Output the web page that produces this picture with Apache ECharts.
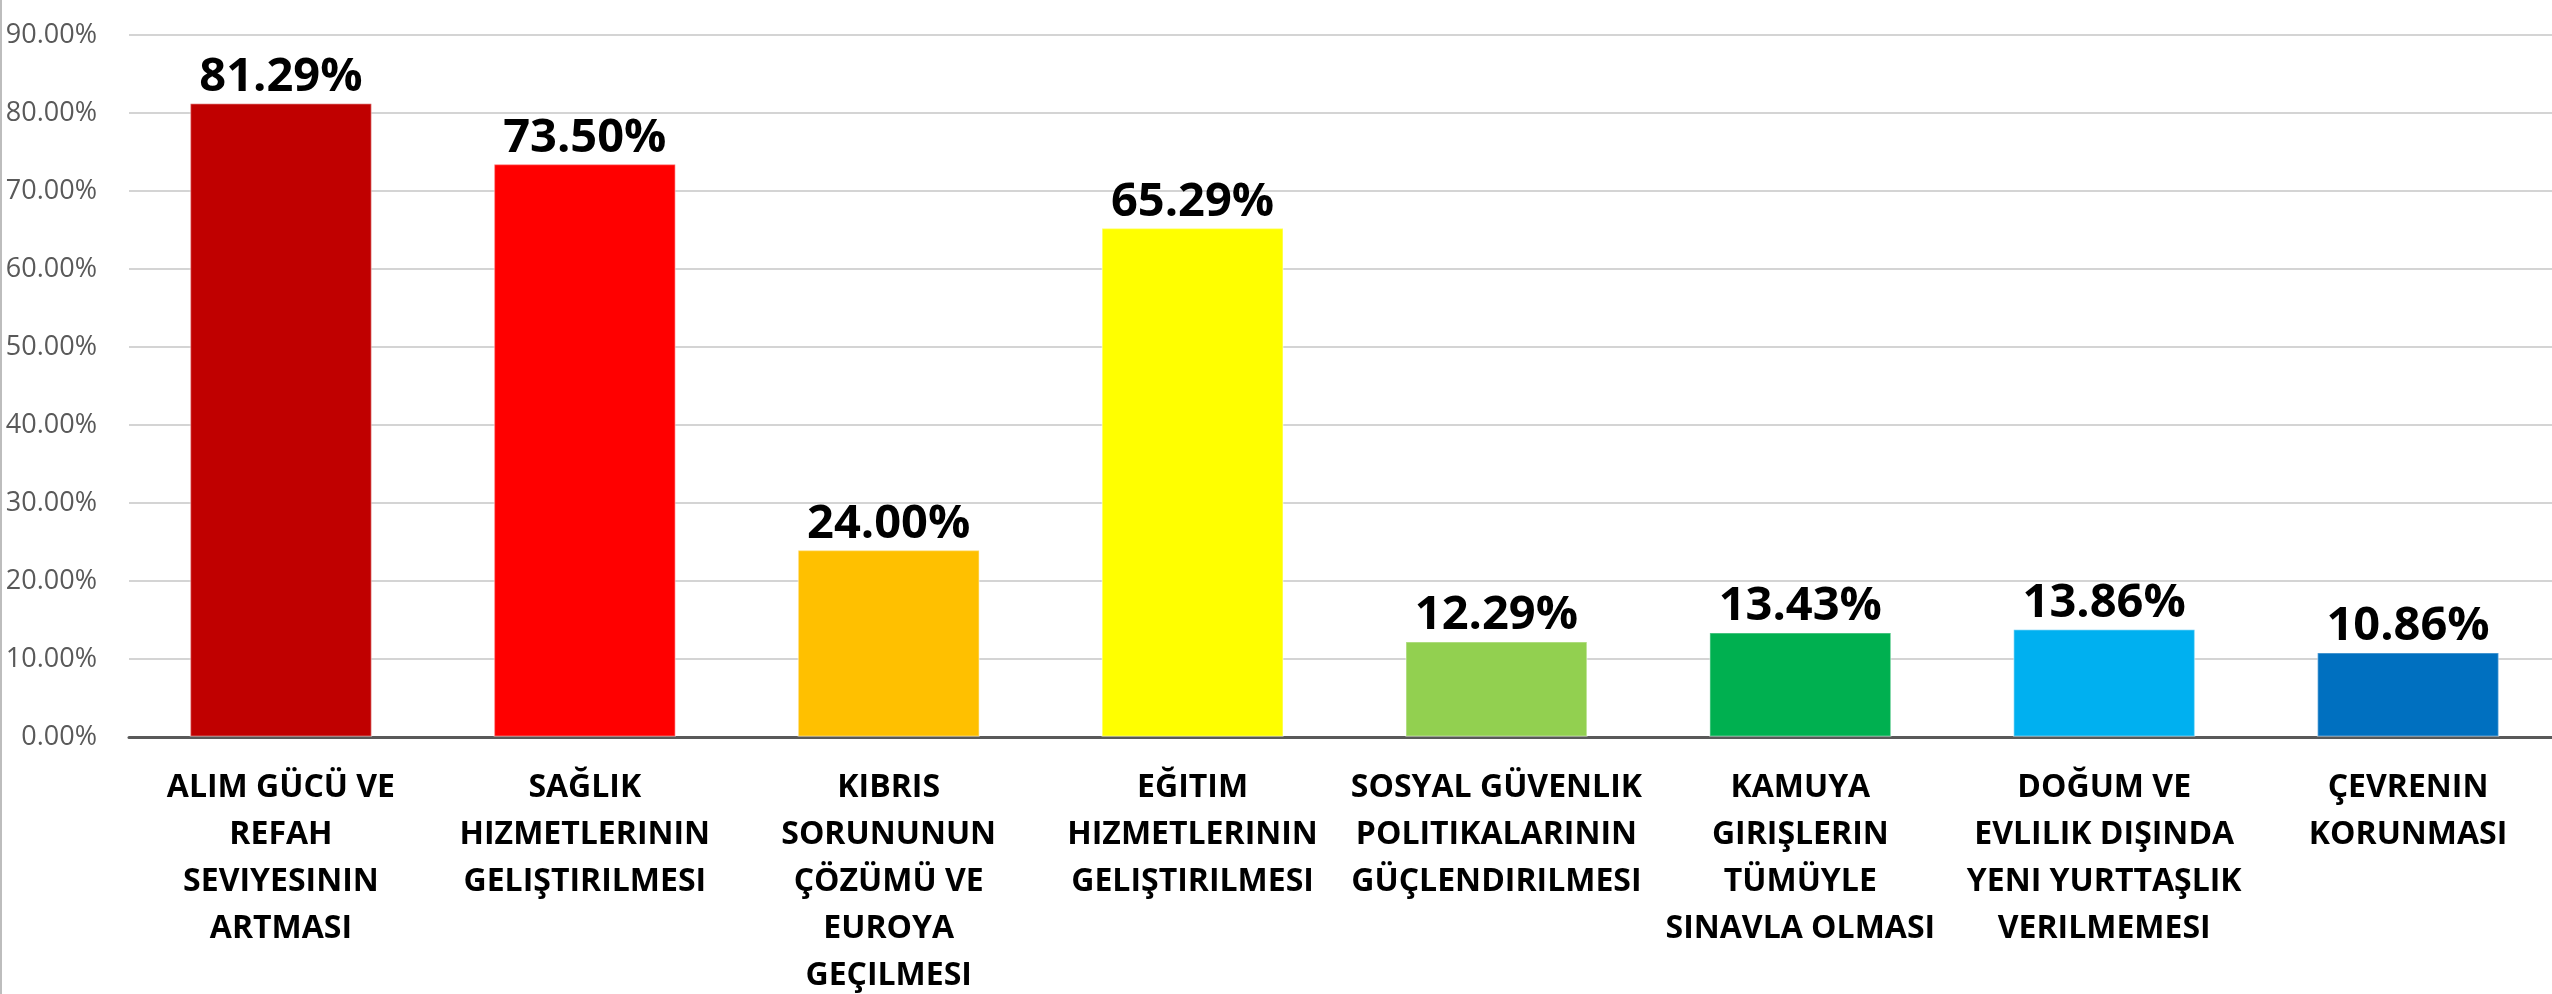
<!DOCTYPE html>
<html>
<head>
<meta charset="utf-8">
<script src="https://cdn.jsdelivr.net/npm/echarts@6/dist/echarts.min.js"></script>
<style>
  html, body { margin: 0; padding: 0; background: #fff; }
  #chart { width: 2552px; height: 994px; }
</style>
</head>
<body>
<div id="chart"></div>
<script>
const categories = [
  'ALIM GÜCÜ VE\nREFAH\nSEVIYESININ\nARTMASI',
  'SAĞLIK\nHIZMETLERININ\nGELIŞTIRILMESI',
  'KIBRIS\nSORUNUNUN\nÇÖZÜMÜ VE\nEUROYA\nGEÇILMESI',
  'EĞITIM\nHIZMETLERININ\nGELIŞTIRILMESI',
  'SOSYAL GÜVENLIK\nPOLITIKALARININ\nGÜÇLENDIRILMESI',
  'KAMUYA\nGIRIŞLERIN\nTÜMÜYLE\nSINAVLA OLMASI',
  'DOĞUM VE\nEVLILIK DIŞINDA\nYENI YURTTAŞLIK\nVERILMEMESI',
  'ÇEVRENIN\nKORUNMASI'
]

const values = [81.29, 73.5, 24.0, 65.29, 12.29, 13.43, 13.86, 10.86]

const barColors = [
  '#C00000',
  '#FF0000',
  '#FFC000',
  '#FFFF00',
  '#92D050',
  '#00B050',
  '#00B0F0',
  '#0070C0'
]

const chart = echarts.init(document.getElementById('chart'))

const option = {
  animation: false,
  textStyle: { fontFamily: 'Open Sans' },
  graphic: [
    {
      type: 'line',
      shape: { x1: 1, y1: 0, x2: 1, y2: 994 },
      style: { stroke: '#BDBDBD', lineWidth: 2 }
    }
  ],
  grid: {
    left: 129,
    right: -8,
    top: 35,
    bottom: 257,
    outerBoundsMode: 'none',
    containLabel: false
  },
  xAxis: {
    type: 'category',
    data: categories,
    axisTick: { show: false },
    axisLine: { lineStyle: { color: '#595959', width: 3 } },
    axisLabel: {
      interval: 0,
      margin: 27,
      color: '#000',
      fontWeight: 'bold',
      fontSize: 32,
      lineHeight: 47,
      fontFamily: 'Open Sans'
    }
  },
  yAxis: {
    type: 'value',
    min: 0,
    max: 90,
    interval: 10,
    axisLine: { show: false },
    axisTick: { show: false },
    axisLabel: {
      margin: 32,
      color: '#595959',
      fontSize: 27,
      fontFamily: 'Open Sans',
      formatter: (v) => v.toFixed(2) + '%'
    },
    splitLine: {
      lineStyle: { color: '#D4D4D4', width: 2 }
    }
  },
  series: [
    {
      type: 'bar',
      data: values.map((v, i) => ({
        value: v,
        itemStyle: { color: barColors[i % barColors.length] }
      })),
      barWidth: '60%',
      itemStyle: {
        borderColor: 'rgba(255,255,255,0.35)',
        borderWidth: 1.5
      },
      label: {
        show: true,
        position: 'top',
        distance: 2,
        color: '#000',
        fontWeight: 'bold',
        fontSize: 47,
        fontFamily: 'Open Sans',
        formatter: (p) => p.value.toFixed(2) + '%'
      }
    }
  ]
}

chart.setOption(option)
</script>
</body>
</html>
